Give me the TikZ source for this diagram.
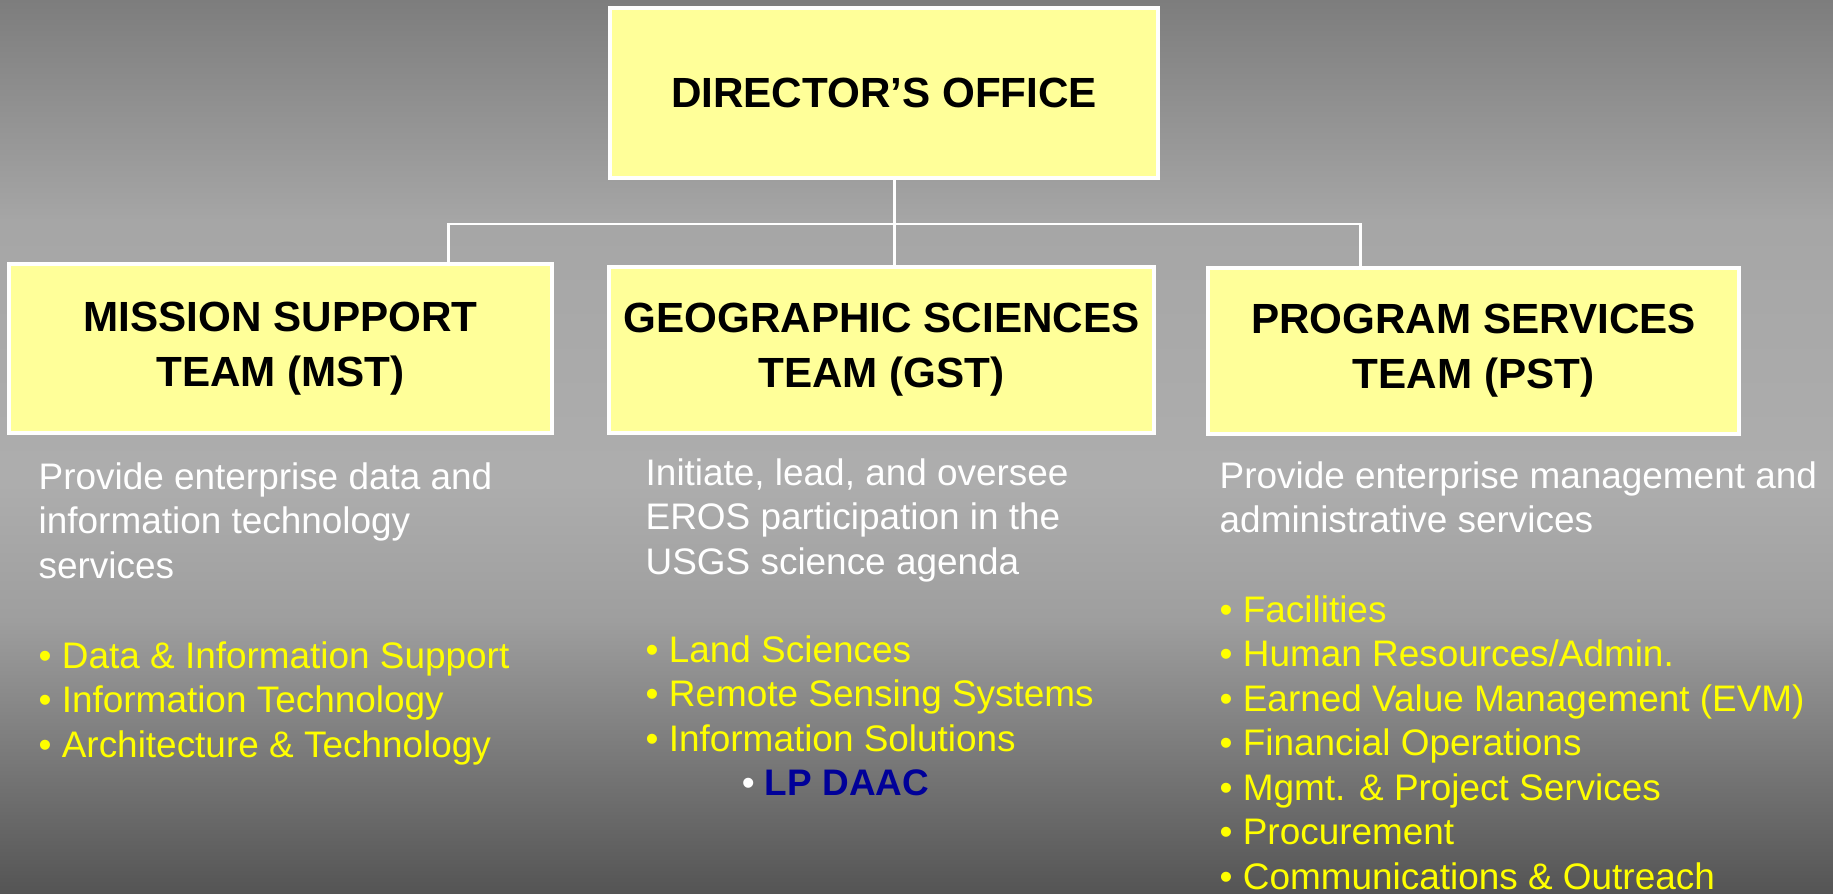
\documentclass[tikz,border=0pt]{standalone}
\usepackage{fontspec}
\setmainfont{Liberation Sans}
\usepackage{tikz}

\definecolor{boxyellow}{HTML}{FFFF99}
\definecolor{dutyyellow}{HTML}{FFFF00}
\definecolor{daacblue}{HTML}{000099}
\definecolor{bgtop}{gray}{0.49}
\definecolor{bgupper}{gray}{0.65}
\definecolor{bgmid}{gray}{0.68}
\definecolor{bglow}{gray}{0.62}
\definecolor{bgbot}{gray}{0.33}

\begin{document}
\begin{tikzpicture}[x=0.01cm,y=-0.01cm,
        team/.style={draw=white, line width=1.1pt, fill=boxyellow, align=center,
            inner sep=0pt, font=\fontsize{12}{15.6}\selectfont\bfseries},
        blurb/.style={anchor=north west, align=left, inner sep=0pt, text=white,
            font=\fontsize{10.5}{12.65}\selectfont},
        duties/.style={blurb, text=dutyyellow},
        wire/.style={draw=white, line width=0.85pt}]
            % slide background
            \useasboundingbox (0,0) rectangle (1833,894);
            \shade[top color=bgtop, bottom color=bgupper] (0,0) rectangle (1833,221);
            \shade[top color=bgupper, bottom color=bgmid] (0,220) rectangle (1833,481);
            \shade[top color=bgmid, bottom color=bglow] (0,480) rectangle (1833,621);
            \shade[top color=bglow, bottom color=bgbot] (0,620) rectangle (1833,894);

            % boxes
            \node[team, minimum width=5.48cm, minimum height=1.70cm] (dir) at (884,93) {DIRECTOR’S OFFICE};
            \node[team, minimum width=5.43cm, minimum height=1.69cm] (mst) at (280.5,348.5) {MISSION SUPPORT\\TEAM (MST)};
            \node[team, minimum width=5.45cm, minimum height=1.66cm] (gst) at (881.5,350) {GEOGRAPHIC SCIENCES\\TEAM (GST)};
            \node[team, minimum width=5.31cm, minimum height=1.66cm] (pst) at (1473.5,351) {PROGRAM SERVICES\\TEAM (PST)};

            % connectors
            \coordinate (hub) at (894,224);
            \coordinate (mstdrop) at (448,224);
            \coordinate (pstdrop) at (1360,224);
            \draw[wire] (mstdrop |- mst.north) -- (mstdrop) -- (pstdrop) -- (pstdrop |- pst.north);
            \draw[wire] (dir.south -| hub) -- (hub |- gst.north);

            % descriptions
            \node[blurb] (mstblurb) at (38,462) {Provide enterprise data and\\information technology\\services};
            \node[blurb] (gstblurb) at (645,458) {Initiate, lead, and oversee\\EROS participation in the\\USGS science agenda};
            \node[blurb] (pstblurb) at (1219,461) {Provide enterprise management and\\administrative services};

            % duties
            \node[duties] (mstduties) at (38,641) {• Data \& Information Support\\• Information Technology\\• Architecture \& Technology};
            \node[duties] (gstduties) at (645,635) {• Land Sciences\\• Remote Sensing Systems\\• Information Solutions\\
                \hspace*{0.96cm}{\color{white}•} {\color{daacblue}\bfseries LP DAAC}};
            \node[duties] (pstduties) at (1219,595) {• Facilities\\• Human Resources/Admin.\\• Earned Value Management (EVM)\\
                • Financial Operations\\• Mgmt. \& Project Services\\• Procurement\\• Communications \& Outreach};
        \end{tikzpicture}
\end{document}
